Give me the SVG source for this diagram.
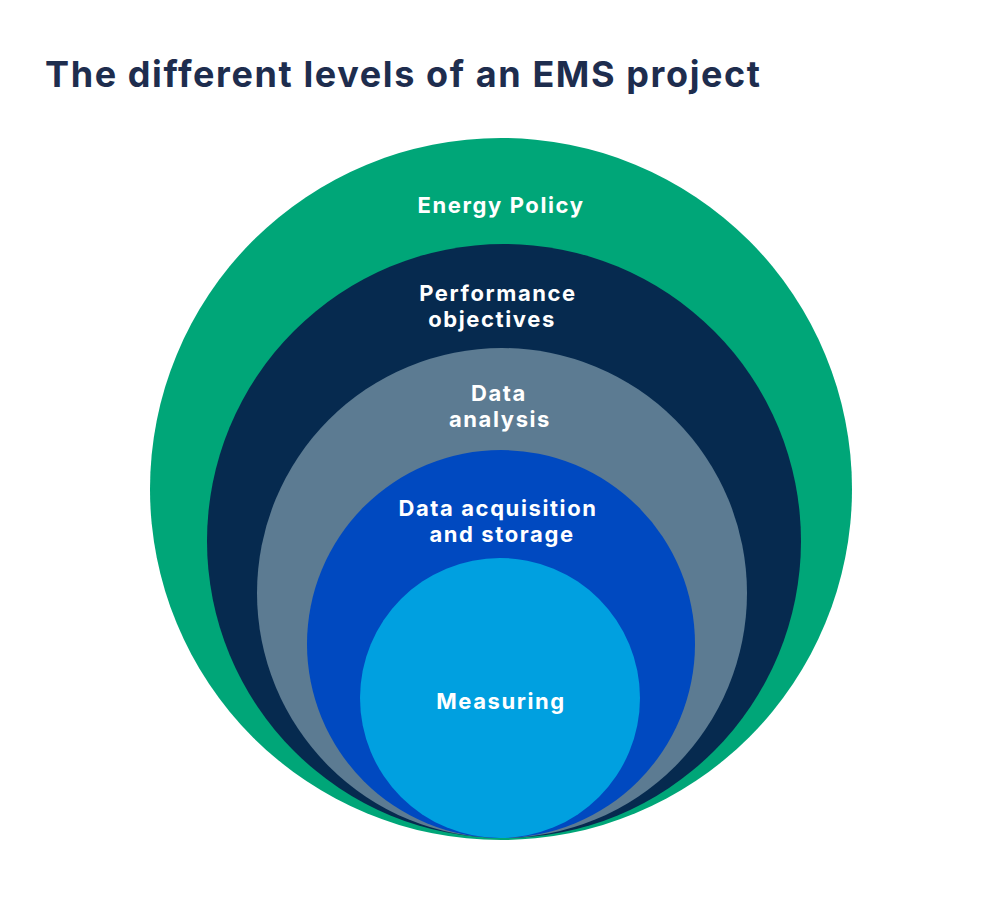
<svg xmlns="http://www.w3.org/2000/svg" width="1000" height="900" viewBox="0 0 1000 900">
<style>
.t{font-family:"Inter","Liberation Sans",sans-serif;font-weight:700;fill:#fff;font-size:22px;text-anchor:middle;letter-spacing:1.6px}
.h{font-family:"Inter","Liberation Sans",sans-serif;font-weight:700;fill:#1e2d4e;font-size:36px;letter-spacing:1.6px}
</style>
<rect width="1000" height="900" fill="#fff"/>
<text class="h" x="45" y="87">The different levels of an EMS project</text>
<g id="energy-policy"><circle cx="501" cy="489" r="351" fill="#00a678"/><text class="t" x="501" y="213">Energy Policy</text></g>
<g id="performance"><circle cx="504" cy="541" r="297" fill="#062a4f"/><text class="t" x="498" y="301">Performance</text><text class="t" x="492" y="327">objectives</text></g>
<g id="data-analysis"><circle cx="502" cy="593" r="245" fill="#5c7b92"/><text class="t" x="499" y="401">Data</text><text class="t" x="500" y="427">analysis</text></g>
<g id="acquisition"><circle cx="501" cy="644" r="194" fill="#0049c0"/><text class="t" x="498" y="516">Data acquisition</text><text class="t" x="502" y="542">and storage</text></g>
<g id="measuring"><circle cx="500" cy="698" r="140" fill="#00a0e0"/><text class="t" x="501" y="709">Measuring</text></g>
<g id="connectors"/>
</svg>
